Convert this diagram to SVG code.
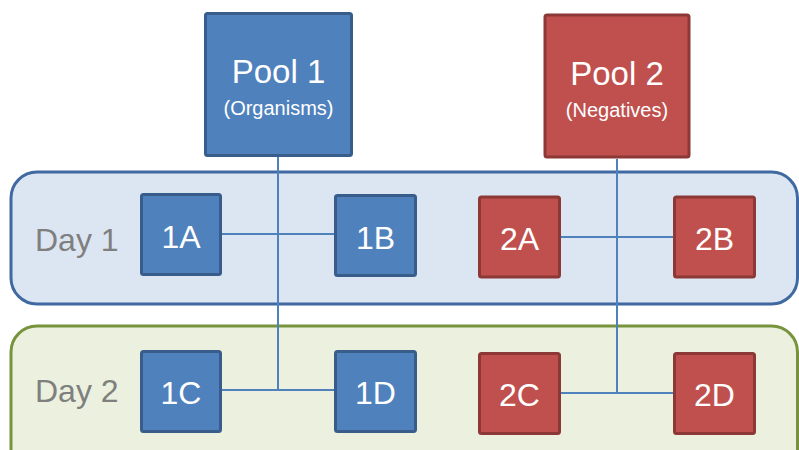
<svg xmlns="http://www.w3.org/2000/svg" width="799" height="450" viewBox="0 0 799 450">
<style>
.band1{fill:#DCE6F2;stroke:#3F69A0;stroke-width:3}
.band2{fill:#EBF1DE;stroke:#77933C;stroke-width:3}
.blue{fill:#4F81BD;stroke:#385D8A;stroke-width:3}
.red{fill:#C0504D;stroke:#8C3836;stroke-width:3}
.lbl{font-family:"Liberation Sans",Arial,sans-serif;fill:#FFFFFF;text-anchor:middle}
.day{font-family:"Liberation Sans",Arial,sans-serif;fill:#7F7F7F;font-size:32px}
.conn{stroke:#4F81BD;stroke-width:2;fill:none}
</style>
<rect width="799" height="450" fill="#FFFFFF"/>
<g id="day1">
<rect class="band1" x="11" y="172" width="786.5" height="132" rx="26" ry="26"/>
<text class="day" x="35" y="251">Day 1</text>
</g>
<g id="day2">
<rect class="band2" x="11" y="326" width="786.5" height="160" rx="26" ry="26"/>
<text class="day" x="35" y="402">Day 2</text>
</g>
<g id="connectors">
<line class="conn" x1="278" y1="157" x2="278" y2="390"/>
<line class="conn" x1="222" y1="234" x2="334" y2="234"/>
<line class="conn" x1="222" y1="390" x2="334" y2="390"/>
<line class="conn" x1="617" y1="159" x2="617" y2="393"/>
<line class="conn" x1="561" y1="237" x2="673" y2="237"/>
<line class="conn" x1="561" y1="393" x2="673" y2="393"/>
</g>
<g id="pool1">
<rect class="blue" x="205.5" y="13.5" width="146" height="142" rx="2"/>
<text class="lbl" x="278.5" y="83" font-size="33">Pool 1</text>
<text class="lbl" x="278.5" y="115" font-size="20">(Organisms)</text>
</g>
<g id="pool2">
<rect class="red" x="545" y="15" width="144" height="142" rx="2"/>
<text class="lbl" x="617" y="85" font-size="33">Pool 2</text>
<text class="lbl" x="617" y="117" font-size="20">(Negatives)</text>
</g>
<g id="n1A">
<rect class="blue" x="141.5" y="194.5" width="79" height="80" rx="2"/>
<text class="lbl" x="181" y="248" font-size="32">1A</text>
</g>
<g id="n1B">
<rect class="blue" x="335.5" y="195.5" width="80" height="80" rx="2"/>
<text class="lbl" x="375.5" y="249" font-size="32">1B</text>
</g>
<g id="n2A">
<rect class="red" x="479.5" y="197" width="80" height="80" rx="2"/>
<text class="lbl" x="519.5" y="250" font-size="32">2A</text>
</g>
<g id="n2B">
<rect class="red" x="674.5" y="197" width="80" height="80" rx="2"/>
<text class="lbl" x="714.5" y="250" font-size="32">2B</text>
</g>
<g id="n1C">
<rect class="blue" x="141.5" y="351.5" width="79" height="80" rx="2"/>
<text class="lbl" x="181" y="404" font-size="32">1C</text>
</g>
<g id="n1D">
<rect class="blue" x="335.5" y="351.5" width="80" height="80" rx="2"/>
<text class="lbl" x="375.5" y="404" font-size="32">1D</text>
</g>
<g id="n2C">
<rect class="red" x="479.5" y="353.5" width="80" height="80" rx="2"/>
<text class="lbl" x="519.5" y="406" font-size="32">2C</text>
</g>
<g id="n2D">
<rect class="red" x="674.5" y="353.5" width="80" height="80" rx="2"/>
<text class="lbl" x="714.5" y="406" font-size="32">2D</text>
</g>
</svg>
